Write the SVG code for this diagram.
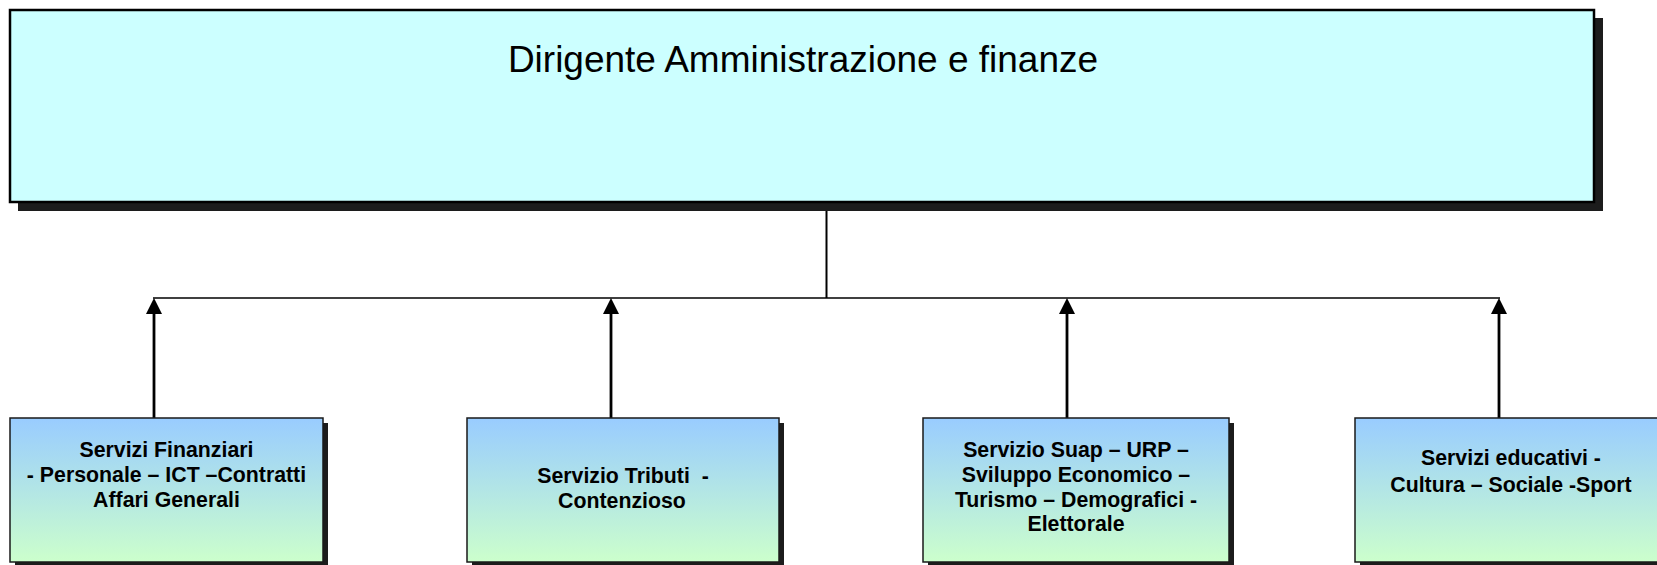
<svg xmlns="http://www.w3.org/2000/svg" width="1657" height="565" viewBox="0 0 1657 565">
<defs>
<linearGradient id="boxGrad" x1="0" y1="0" x2="0" y2="1">
<stop offset="0" stop-color="#99ccff"/>
<stop offset="1" stop-color="#ccffcc"/>
</linearGradient>
<style>
.shadow{fill:#1c1c1c}
.top{fill:#ccffff;stroke:#000;stroke-width:2.5}
.box{fill:url(#boxGrad);stroke:#1a1a1a;stroke-width:1.5}
.title{font-family:"Liberation Sans",Arial,sans-serif;font-size:37px;fill:#000;text-anchor:middle}
.lbl{font-family:"Liberation Sans",Arial,sans-serif;font-size:21.3px;font-weight:bold;fill:#000;text-anchor:middle}
.conn{stroke:#000;fill:none}
.head{fill:#000}
</style>
</defs>
<rect width="1657" height="565" fill="#fff"/>

<g id="connectors">
<line class="conn" x1="826.5" y1="202" x2="826.5" y2="298" stroke-width="2"/>
<line class="conn" x1="153" y1="298" x2="1500" y2="298" stroke-width="1.6"/>
<line class="conn" x1="154" y1="418" x2="154" y2="306" stroke-width="2.8"/>
<line class="conn" x1="611" y1="418" x2="611" y2="306" stroke-width="2.8"/>
<line class="conn" x1="1067" y1="418" x2="1067" y2="306" stroke-width="2.8"/>
<line class="conn" x1="1499" y1="418" x2="1499" y2="306" stroke-width="2.8"/>
<path class="head" d="M154,298 L162,314 L146,314 Z"/>
<path class="head" d="M611,298 L619,314 L603,314 Z"/>
<path class="head" d="M1067,298 L1075,314 L1059,314 Z"/>
<path class="head" d="M1499,298 L1507,314 L1491,314 Z"/>
</g>

<g id="node-dirigente">
<rect class="shadow" x="18" y="18" width="1585" height="193"/>
<rect class="top" x="10" y="10" width="1584" height="192"/>
<text class="title" x="803" y="72">Dirigente Amministrazione e finanze</text>
</g>

<g id="node-finanziari">
<rect class="shadow" x="15" y="423" width="313" height="144"/>
<rect class="box" x="10" y="418" width="313" height="144"/>
<text class="lbl" x="166.5" y="457">Servizi Finanziari</text>
<text class="lbl" x="166.5" y="482">- Personale – ICT –Contratti</text>
<text class="lbl" x="166.5" y="507">Affari Generali</text>
</g>

<g id="node-tributi">
<rect class="shadow" x="472" y="423" width="312" height="144"/>
<rect class="box" x="467" y="418" width="312" height="144"/>
<text class="lbl" x="623" y="482.5" xml:space="preserve">Servizio Tributi  -</text>
<text class="lbl" x="622" y="507.5">Contenzioso</text>
</g>

<g id="node-suap">
<rect class="shadow" x="928" y="423" width="306" height="144"/>
<rect class="box" x="923" y="418" width="306" height="144"/>
<text class="lbl" x="1076" y="457">Servizio Suap – URP –</text>
<text class="lbl" x="1076" y="482">Sviluppo Economico –</text>
<text class="lbl" x="1076" y="507">Turismo – Demografici -</text>
<text class="lbl" x="1076" y="531">Elettorale</text>
</g>

<g id="node-educativi">
<rect class="shadow" x="1360" y="423" width="312" height="144"/>
<rect class="box" x="1355" y="418" width="312" height="144"/>
<text class="lbl" x="1511" y="465">Servizi educativi -</text>
<text class="lbl" x="1511" y="492">Cultura – Sociale -Sport</text>
</g>
</svg>
